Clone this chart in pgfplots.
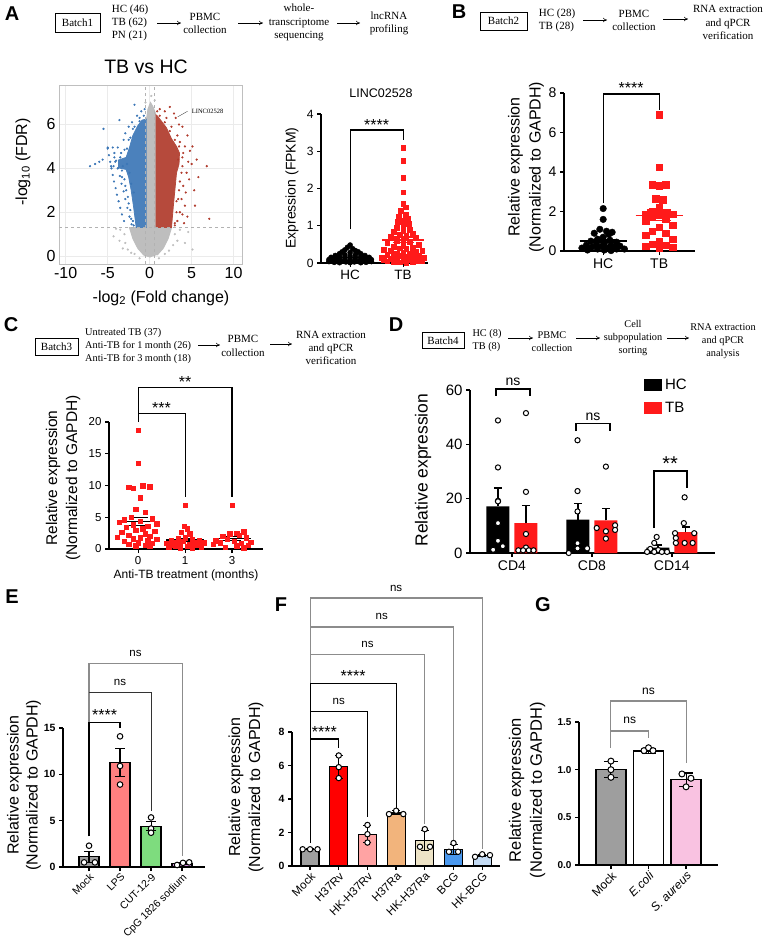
\documentclass[border=0pt]{standalone}
\usepackage{pgfplots}
\pgfplotsset{compat=1.18}
\usepackage{fontspec}
\setmainfont{Liberation Sans}
\newfontfamily\tms{Liberation Serif}
\usetikzlibrary{arrows.meta}

\definecolor{vblue}{HTML}{3B76B6}
\definecolor{vred}{HTML}{B03A2B}
\definecolor{vgray}{HTML}{BEBEBE}
\definecolor{gpred}{HTML}{FF1A1A}
\definecolor{eMock}{HTML}{9E9E9E}
\definecolor{eLPS}{HTML}{FF8080}
\definecolor{eCUT}{HTML}{7EDC7E}
\definecolor{eCpG}{HTML}{D592E0}
\definecolor{fRv}{HTML}{FF0000}
\definecolor{fHKRv}{HTML}{FFA3A3}
\definecolor{fRa}{HTML}{F2B47C}
\definecolor{fHKRa}{HTML}{EDE3C6}
\definecolor{fBCG}{HTML}{4A98EE}
\definecolor{fHKBCG}{HTML}{C4DBF4}
\definecolor{gSa}{HTML}{F9C2E1}

\newcommand\fs[1]{\fontsize{#1}{#1}\selectfont}
\newcommand\fsl[2]{\fontsize{#1}{#2}\selectfont}

\pgfplotsset{
  /pgf/number format/assume math mode=true,
  gp/.style={scale only axis, anchor=south west, axis lines=left,
    axis line style={-, line width=1.3pt}, tick style={black, line width=1.3pt},
    tick align=outside, major tick length=4pt, enlargelimits=false, clip=false},
  gpbar/.style={ybar, bar shift=0pt, draw=black, line width=1.2pt,
    error bars/y dir=both, error bars/y explicit,
    error bars/error bar style={line width=1.1pt, black, solid},
    error bars/error mark options={rotate=90, mark size=#1, line width=1.1pt, black}},
  gpdots/.style={only marks, mark=*, mark size=2.8pt, mark options={fill=white, draw=black, line width=1pt}},
  brk/.style={line width=1.1pt, black, mark=none},
  brkg/.style={line width=1.1pt, black!45, mark=none},
}
\tikzset{
  fc/.style={font=\tms\fsl{11}{13.3}, align=center, inner sep=0pt},
  fcs/.style={font=\tms\fsl{10.3}{13.2}, align=center, inner sep=0pt},
  fcb/.style={draw, line width=0.6pt, font=\tms\fs{11}, inner sep=0pt},
  fca/.style={-{To[length=4pt,width=4.5pt]}, line width=0.55pt},
  plet/.style={font=\bfseries\fs{20}, inner sep=0pt},
  ylab/.style={rotate=90, align=center, inner sep=0pt},
}

\begin{document}
\begin{tikzpicture}
\path[use as bounding box] (0pt,0pt) rectangle (765pt,-943pt);

% ---------------- panel letters ----------------
\node[plet] at (12pt,-14pt) {A};
\node[plet] at (459pt,-12pt) {B};
\node[plet] at (11pt,-325pt) {C};
\node[plet] at (396pt,-325pt) {D};
\node[plet] at (12pt,-597pt) {E};
\node[plet] at (281pt,-605pt) {F};
\node[plet] at (543pt,-605pt) {G};

% ---------------- workflow A ----------------
\node[fcb, minimum width=45pt, minimum height=19pt] at (77.5pt,-23pt) {Batch1};
\node[fc, align=left] at (130pt,-23pt) {HC (46)\\TB (62)\\PN (21)};
\draw[fca] (157pt,-23pt) -- (181pt,-23pt);
\node[fc] at (205pt,-23.5pt) {PBMC\\collection};
\draw[fca] (238pt,-23pt) -- (263pt,-23pt);
\node[fc] at (299pt,-22.5pt) {whole-\\transcriptome\\sequencing};
\draw[fca] (337pt,-23pt) -- (360pt,-23pt);
\node[fc] at (389pt,-23.5pt) {lncRNA\\profiling};

% ---------------- workflow B ----------------
\node[fcb, minimum width=47pt, minimum height=18pt] at (503.5pt,-21pt) {Batch2};
\node[fc, align=left] at (557pt,-20.5pt) {HC (28)\\TB (28)};
\draw[fca] (583pt,-20pt) -- (607pt,-20pt);
\node[fc] at (634pt,-20.5pt) {PBMC\\collection};
\draw[fca] (663pt,-19pt) -- (688pt,-19pt);
\node[fc] at (728pt,-22.5pt) {RNA extraction\\and qPCR\\verification};

% ---------------- workflow C ----------------
\node[fcb, minimum width=43pt, minimum height=17pt] at (56.5pt,-347pt) {Batch3};
\node[fcs, align=left, anchor=west] at (85pt,-346pt) {Untreated TB (37)\\Anti-TB for 1 month (26)\\Anti-TB for 3 month (18)};
\draw[fca] (198pt,-345pt) -- (220pt,-345pt);
\node[fc] at (243pt,-346pt) {PBMC\\collection};
\draw[fca] (270pt,-344pt) -- (292pt,-344pt);
\node[fc] at (331pt,-348pt) {RNA extraction\\and qPCR\\verification};

% ---------------- workflow D ----------------
\node[fcb, minimum width=42pt, minimum height=16pt] at (443pt,-340.5pt) {Batch4};
\node[fcs, align=left] at (487pt,-340.5pt) {HC (8)\\TB (8)};
\draw[fca] (508pt,-338pt) -- (533pt,-338pt);
\node[fcs] at (552pt,-341.5pt) {PBMC\\collection};
\draw[fca] (576pt,-338pt) -- (600pt,-338pt);
\node[fcs] at (633pt,-338pt) {Cell\\subpopulation\\sorting};
\draw[fca] (667pt,-338pt) -- (689pt,-338pt);
\node[fcs] at (723pt,-341pt) {RNA extraction\\and qPCR\\analysis};

% ---------------- A: volcano ----------------
\node[font=\fs{19.5}] at (146pt,-67pt) {TB vs HC};
\node[ylab, font=\fs{16}] at (23pt,-162pt) {-log\textsubscript{10} (FDR)};
\node[font=\fs{16}] at (161pt,-298pt) {-log\textsubscript{2} (Fold change)};
\begin{axis}[scale only axis, anchor=south west, at={(59pt,-264pt)}, width=183pt, height=179pt,
  xmin=-10.8, xmax=11, ymin=-0.36, ymax=7.8, enlargelimits=false, clip=false,
  axis line style={black!25, line width=0.6pt},
  xtick={-10,-5,0,5,10}, ytick={0,2,4,6}, major tick length=0pt,
  grid=major, grid style={black!8, line width=0.5pt},
  ticklabel style={font=\fs{16}}]
% dense cores
\addplot[draw=vgray, line width=1pt, fill=vgray] coordinates {(0.1,-0.05) (-0.7,0.05) (-1.4,0.35) (-2.0,0.8) (-2.4,1.3) (-0.35,1.3) (-0.35,6.3) (-0.2,6.7) (0.1,7.0) (0.4,6.8) (0.7,6.5) (0.7,1.3) (2.6,1.3) (2.2,0.8) (1.6,0.35) (0.9,0.05)};
\addplot[draw=vblue!92, line width=0.8pt, fill=vblue!92] coordinates {(-0.35,1.3) (-1.6,1.3) (-1.9,2.2) (-2.2,3.0) (-2.5,3.6) (-2.8,3.95) (-3.7,4.02) (-3.7,4.38) (-2.8,4.5) (-2.4,4.95) (-2.0,5.5) (-1.4,5.95) (-0.9,6.2) (-0.35,6.25)};
\addplot[draw=vred!92, line width=0.8pt, fill=vred!92] coordinates {(0.7,1.3) (2.6,1.3) (2.8,2.2) (3.0,3.0) (3.2,3.8) (3.5,4.2) (3.55,4.7) (3.2,5.0) (2.6,5.35) (2.0,5.85) (1.4,6.15) (0.9,6.4) (0.7,6.45)};
% scattered genes
\addplot[only marks, mark=*, mark size=0.9pt, vgray] coordinates {(-3.0,1.0) (-3.5,1.2) (-4.0,1.25) (-2.9,0.6) (-2.6,0.3) (3.0,1.0) (3.6,1.2) (4.2,0.6) (2.8,0.5) (-1.8,0.1) (1.8,0.1) (-3.2,0.35) (5.1,0.3) (0.2,7.3) (-0.5,7.0) (0.6,7.1) (-2.2,0.15) (2.3,0.25) (-4.3,0.9) (4.6,1.1) (-1.2,-0.1) (1.1,-0.1) (3.3,0.7) (-3.6,0.7)};
\addplot[only marks, mark=*, mark size=0.9pt, vblue] coordinates {(-7.1,4.1) (-6.5,4.2) (-5.5,5.8) (-5.0,4.95) (-4.4,4.95) (-3.8,4.95) (-3.6,6.2) (-1.8,6.9) (-3.1,5.3) (-2.9,5.6) (-2.5,5.9) (-2.1,6.1) (-1.5,6.4) (-1.0,6.6) (-0.6,6.7) (-3.4,4.7) (-3.0,4.85) (-4.1,4.3) (-4.6,4.1) (-3.3,3.6) (-2.9,3.2) (-2.6,2.7) (-2.3,2.1) (-2.0,1.6) (-1.9,1.4)
 (-5.0,4.9) (-4.85,4.6) (-4.7,4.3) (-4.55,4.0) (-4.4,3.7) (-4.25,3.4) (-4.05,3.1) (-3.9,2.8) (-3.7,2.5) (-3.5,2.2) (-3.3,1.9) (-3.05,1.6)
 (-4.2,4.7) (-4.0,4.35) (-3.8,4.0) (-3.55,3.65) (-3.35,3.3) (-3.1,2.95) (-2.9,2.6) (-2.65,2.2) (-2.4,1.8) (-2.15,1.45)
 (-2.7,4.2) (-3.2,4.1) (-2.4,3.8) (-2.2,3.3) (-1.9,2.9) (-2.5,5.3) (-2.0,5.8) (-1.2,6.3) (-5.6,4.4) (-6.0,4.3)
 (-2.2,1.7) (-2.5,2.4) (-2.8,3.0) (-3.0,3.5) (-3.3,3.9) (-4.3,4.1) (-4.2,4.5) (-3.5,4.5) (-2.7,4.9) (-2.3,5.4) (-1.8,5.9) (-1.2,6.15) (-0.7,6.4)};
\addplot[only marks, mark=*, mark size=0.9pt, vred] coordinates {(2.4,6.8) (3.1,6.3) (5.1,5.0) (6.8,4.1) (7.1,1.7) (5.6,4.4) (4.5,5.5) (3.9,5.9) (4.2,5.0) (4.8,4.8) (5.0,4.2) (4.4,3.8) (4.0,3.2) (3.8,2.6) (4.2,2.3) (3.6,2.0) (4.5,1.8) (3.3,1.6) (5.3,3.0) (4.7,3.5) (4.3,2.9) (3.5,6.0) (2.9,6.5) (1.8,6.6) (1.2,6.7) (5.8,3.6) (4.1,1.5) (3.0,1.4) (3.9,4.5) (3.6,5.2) (3.3,5.5) (2.6,5.9) (3.8,3.8) (3.5,3.0) (3.2,2.5) (3.4,4.4) (4.6,4.3) (2.0,6.3) (5.4,2.3) (3.9,1.9)
 (3.0,1.5) (3.2,2.0) (3.4,2.6) (3.6,3.4) (3.9,4.1) (4.0,4.7) (3.5,5.0) (3.0,5.3) (2.4,5.7) (1.8,6.1) (1.2,6.4) (0.9,6.6)};
% thresholds
\addplot[black!30, dashed, line width=0.5pt] coordinates {(-10.8,1.3) (11,1.3)};
\addplot[black!30, dashed, line width=0.5pt] coordinates {(-0.5,-0.36) (-0.5,7.8)};
\addplot[black!30, dashed, line width=0.5pt] coordinates {(0.6,-0.36) (0.6,7.8)};
% highlighted transcript
\addplot[black!70, line width=0.4pt] coordinates {(3.35,6.35) (4.5,6.6)};
\node[font=\tms\fs{6.5}] at (axis cs:6.9,6.62) {LINC02528};
\end{axis}

% ---------------- A: LINC02528 FPKM ----------------
\node[font=\fs{12.5}] at (381pt,-93pt) {LINC02528};
\node[ylab, font=\fs{14}] at (292pt,-188pt) {Expression (FPKM)};
\begin{axis}[gp, at={(321pt,-263pt)}, width=107pt, height=149pt,
  xmin=-0.55, xmax=1.47, ymin=0, ymax=4, xtick={0,1}, xticklabels={HC,TB},
  ytick={0,1,2,3,4}, yticklabel style={font=\fs{12}}, xticklabel style={font=\fs{13.5}},
  axis line style={-, line width=1.1pt}, tick style={black, line width=1.1pt}]
\addplot[only marks, mark=*, mark size=2.6pt, black] coordinates {
 (0,0.48) (-0.05,0.42) (0.05,0.38) (-0.1,0.35) (0.1,0.33) (-0.15,0.3) (0.15,0.3) (0,0.28)
 (-0.2,0.25) (0.2,0.25) (-0.1,0.22) (0.1,0.22) (-0.28,0.2) (0.28,0.2) (0,0.18) (-0.2,0.17)
 (0.2,0.17) (-0.36,0.15) (0.36,0.15) (-0.1,0.14) (0.1,0.14) (-0.28,0.12) (0.28,0.12) (0,0.1)
 (-0.2,0.1) (0.2,0.1) (-0.4,0.09) (0.4,0.09) (-0.34,0.08) (0.34,0.08) (-0.1,0.07) (0.1,0.07)
 (-0.26,0.06) (0.26,0.06) (0,0.05) (-0.18,0.05) (0.18,0.05) (-0.4,0.04) (0.4,0.04) (-0.08,0.03)
 (0.08,0.03) (-0.3,0.02) (0.3,0.02) (0,0.01) (-0.2,0.01) (0.2,0.01)};
\addplot[only marks, mark=square*, mark size=2.4pt, gpred] coordinates {
 (1,3.1) (1,2.75) (1,2.3) (1,1.9) (1,1.6) (1.05,1.5) (0.95,1.4) (1.05,1.3) (0.92,1.25) (1.08,1.2)
 (1,1.15) (0.9,1.1) (1.1,1.05) (1,1.0) (0.88,0.95) (1.12,0.9) (1,0.87) (0.82,0.84) (1.18,0.8)
 (0.94,0.77) (1.06,0.74) (0.76,0.7) (1.24,0.67) (1,0.64) (0.88,0.6) (1.12,0.57) (0.7,0.54) (1.3,0.5)
 (1,0.47) (0.82,0.44) (1.18,0.42) (0.94,0.4) (1.06,0.38) (0.64,0.36) (1.36,0.34) (0.76,0.32)
 (1.24,0.3) (1,0.28) (0.88,0.26) (1.12,0.24) (0.7,0.22) (1.3,0.2) (0.94,0.19) (1.06,0.18)
 (0.82,0.17) (1.18,0.16) (0.6,0.15) (1.4,0.14) (1,0.13) (0.76,0.12) (1.24,0.11) (0.88,0.1)
 (1.12,0.09) (0.64,0.08) (1.36,0.07) (1,0.06) (0.7,0.05) (1.3,0.05) (0.82,0.04) (1.18,0.03)
 (0.94,0.02) (1.06,0.01)};
\addplot[black, line width=1.2pt] coordinates {(-0.35,0.15) (0.35,0.15)};
\addplot[gpred, line width=1.2pt] coordinates {(0.6,0.62) (1.4,0.62)};
\addplot[gpred, line width=1.2pt] coordinates {(0.8,0.70) (1.2,0.70)};
\addplot[gpred, line width=1.2pt] coordinates {(0.8,0.54) (1.2,0.54)};
\addplot[brk] coordinates {(0,0.9) (0,3.57) (1,3.57) (1,3.3)};
\node[anchor=base, font=\fs{16}] at (axis cs:0.5,3.57) {****};
\end{axis}

% ---------------- B ----------------
\node[ylab, font=\fsl{16}{21}] at (526pt,-167pt) {Relative expression\\(Normalized to GAPDH)};
\begin{axis}[gp, at={(564pt,-251pt)}, width=131pt, height=158pt,
  xmin=-0.7, xmax=1.64, ymin=0, ymax=8, xtick={0,1}, xticklabels={HC,TB},
  ytick={0,2,4,6,8}, yticklabel style={font=\fs{14}}, xticklabel style={font=\fs{14}}]
\addplot[only marks, mark=*, mark size=3.3pt, black] coordinates {
 (0,2.15) (0,1.6) (-0.06,1.1) (0.06,1.0) (0.16,0.95) (-0.16,0.9) (0.1,0.85) (0,0.7)
 (-0.1,0.6) (0.12,0.55) (-0.22,0.5) (0.24,0.45) (0.02,0.4) (-0.12,0.35) (0.14,0.3) (-0.3,0.3)
 (0.3,0.25) (-0.02,0.25) (0.2,0.2) (-0.2,0.2) (0.08,0.15) (-0.38,0.15) (0.38,0.1) (-0.1,0.1)
 (0.24,0.1) (-0.28,0.05) (0.02,0.05) (0.14,0.02)};
\addplot[only marks, mark=square*, mark size=3.2pt, gpred] coordinates {
 (1,6.9) (1,4.25) (0.88,3.35) (1.12,3.35) (1,3.3) (0.94,2.65) (1.06,2.6) (1,2.2) (0.88,2.0)
 (1.12,1.9) (0.76,1.85) (1.24,1.85) (1,1.8) (0.88,1.7) (1.12,1.6) (0.76,1.5) (1.24,1.3) (1,1.2)
 (0.88,1.0) (1.12,0.9) (0.76,0.8) (1.24,0.6) (1,0.5) (0.88,0.35) (1.12,0.3) (0.76,0.25) (1.24,0.2) (1,0.15)};
\addplot[black, line width=1.3pt] coordinates {(-0.42,0.51) (0.42,0.51)};
\addplot[black, line width=1.3pt] coordinates {(-0.22,0.60) (0.22,0.60)};
\addplot[black, line width=1.3pt] coordinates {(-0.22,0.42) (0.22,0.42)};
\addplot[gpred, line width=1.3pt] coordinates {(0.58,1.8) (1.42,1.8)};
\addplot[gpred, line width=1.3pt] coordinates {(0.78,2.07) (1.22,2.07)};
\addplot[gpred, line width=1.3pt] coordinates {(0.78,1.53) (1.22,1.53)};
\addplot[brk] coordinates {(0,2.43) (0,7.95) (1,7.95) (1,7.15)};
\node[anchor=base, font=\fs{16}] at (axis cs:0.5,7.95) {****};
\end{axis}

% ---------------- C ----------------
\node[ylab, font=\fsl{15.5}{20}] at (63pt,-478pt) {Relative expression\\(Normalized to GAPDH)};
\node[font=\fs{12}] at (186pt,-575pt) {Anti-TB treatment (months)};
\begin{axis}[gp, at={(109pt,-549pt)}, width=154pt, height=127pt,
  xmin=-0.62, xmax=2.66, ymin=0, ymax=20, xtick={0,1,2}, xticklabels={0,1,3},
  ytick={0,5,10,15,20}, ticklabel style={font=\fs{11.5}},
  axis line style={-, line width=1.1pt}, tick style={black, line width=1.1pt}]
\addplot[only marks, mark=square*, mark size=2.2pt, gpred] coordinates {
 (0,18.7) (0,13.5) (0.1,10.0) (0.25,9.8) (-0.2,9.7) (-0.1,9.6) (0.05,8.1) (-0.05,6.3) (0.15,5.8)
 (-0.15,5.0) (0.3,4.8) (-0.3,4.6) (0.05,4.4) (-0.4,4.2) (0.4,4.0) (-0.1,3.8) (0.2,3.6) (-0.25,3.4)
 (0.1,3.2) (-0.05,3.0) (0.35,2.8) (-0.35,2.6) (0.15,2.4) (-0.2,2.2) (0.25,2.0) (-0.45,1.9) (0.05,1.8)
 (-0.1,1.6) (0.4,1.5) (0.2,1.3) (-0.3,1.2) (0,1.0) (0.3,0.9) (-0.2,0.8) (0.15,0.6) (-0.05,0.5) (0.25,0.4)
 (1,6.9) (0.98,3.6) (1.05,3.2) (0.92,2.6) (1.1,2.4) (1,1.8) (0.85,1.6) (1.15,1.5) (0.7,1.4) (1.3,1.3)
 (0.95,1.2) (1.2,1.1) (0.8,1.0) (1.4,1.0) (0.6,0.9) (1.1,0.8) (0.9,0.8) (1.3,0.7) (0.7,0.6) (1.2,0.6)
 (0.8,0.5) (1.05,0.4) (1.35,0.3) (0.65,0.3) (1.15,0.2) (0.9,0.1)
 (2,6.9) (2.25,2.7) (2.1,2.5) (1.95,2.4) (2.15,2.2) (1.8,2.0) (2.3,1.8) (1.9,1.5) (1.65,1.3) (2.05,1.2)
 (2.4,1.1) (1.75,1.0) (2.2,0.9) (1.6,0.8) (2.35,0.6) (2.1,0.5) (1.85,0.3) (2.25,0.2)};
\addplot[black, line width=1.2pt] coordinates {(-0.4,4.35) (0.4,4.35)};
\addplot[black, line width=1.2pt] coordinates {(-0.2,5.0) (0.2,5.0)};
\addplot[black, line width=1.2pt] coordinates {(-0.2,3.7) (0.2,3.7)};
\addplot[black, line width=1.2pt] coordinates {(0.6,1.42) (1.4,1.42)};
\addplot[black, line width=1.2pt] coordinates {(0.8,1.69) (1.2,1.69)};
\addplot[black, line width=1.2pt] coordinates {(0.8,1.15) (1.2,1.15)};
\addplot[black, line width=1.2pt] coordinates {(1.6,1.66) (2.4,1.66)};
\addplot[black, line width=1.2pt] coordinates {(1.8,2.0) (2.2,2.0)};
\addplot[black, line width=1.2pt] coordinates {(1.8,1.3) (2.2,1.3)};
\addplot[brk] coordinates {(0,20) (0,25.4) (2,25.4) (2,8.2)};
\addplot[brk] coordinates {(0,21.3) (1,21.3) (1,8.2)};
\node[anchor=base, font=\fs{16}] at (axis cs:1,25.4) {**};
\node[anchor=base, font=\fs{16}] at (axis cs:0.5,21.3) {***};
\end{axis}

% ---------------- D ----------------
\node[ylab, font=\fs{17.5}] at (423pt,-470pt) {Relative expression};
\begin{axis}[gp, at={(470pt,-553pt)}, width=245pt, height=163pt,
  xmin=-0.525, xmax=2.54, ymin=0, ymax=60, xtick={0,1,2}, xticklabels={CD4,CD8,CD14},
  ytick={0,20,40,60}, yticklabel style={font=\fs{15}}, xticklabel style={font=\fs{14}},
  axis line style={-, line width=1.5pt}, tick style={black, line width=1.5pt},
  legend style={draw=none, fill=none, at={(0.71,1.085)}, anchor=north west, font=\fs{15},
    row sep=5pt, inner sep=0pt, nodes={inner sep=3pt}},
  legend cell align=left,
  legend image code/.code={\fill[#1] (0pt,-6pt) rectangle (18pt,6pt);}]
\addplot[ybar, bar shift=0pt, bar width=23pt, fill=black, draw=none,
  error bars/y dir=plus, error bars/y explicit,
  error bars/error bar style={line width=1.3pt, black},
  error bars/error mark options={rotate=90, mark size=4pt, line width=1.3pt, black}]
  coordinates {(-0.175,17.2) +- (0,6.7) (0.825,12.3) +- (0,5.8) (1.825,2.0) +- (0,1.0)};
\addlegendentry{HC}
\addplot[ybar, bar shift=0pt, bar width=23pt, fill=gpred, draw=none,
  error bars/y dir=plus, error bars/y explicit,
  error bars/error bar style={line width=1.3pt, black},
  error bars/error mark options={rotate=90, mark size=4pt, line width=1.3pt, black}]
  coordinates {(0.175,11.0) +- (0,6.4) (1.175,12.0) +- (0,4.3) (2.175,7.7) +- (0,1.9)};
\addlegendentry{TB}
\addplot[gpdots, mark size=2.6pt, forget plot] coordinates {
 (-0.175,48.8) (-0.175,31.5) (-0.175,19.2) (-0.175,19.0) (-0.175,11.0) (-0.175,4.5) (-0.235,1.2) (-0.115,2.5)
 (0.175,51.5) (0.175,22.5) (0.175,7.0) (0.175,2.0) (0.08,1.0) (0.14,1.0) (0.21,1.0) (0.27,1.0)
 (0.82,41.5) (0.82,22.8) (0.82,15.3) (0.82,3.6) (0.82,1.7) (0.94,1.7) (0.71,0.0)
 (1.175,31.8) (1.29,10.2) (1.06,9.2) (1.175,8.0) (1.29,8.5) (1.175,5.3)
 (1.81,5.9) (1.78,3.7) (1.73,1.5) (1.83,1.1) (1.69,0.4) (1.78,0.4) (1.875,0.4) (1.94,0.4)
 (2.16,20.5) (2.15,11.0) (2.04,7.3) (2.28,7.3) (2.05,5.5) (2.16,3.7) (2.26,3.7) (2.05,3.7)};
\addplot[brk, line width=1.3pt, forget plot] coordinates {(-0.2,57.8) (-0.2,60.4) (0.225,60.4) (0.225,57.8)};
\addplot[brk, line width=1.3pt, forget plot] coordinates {(0.8,44.9) (0.8,47.8) (1.225,47.8) (1.225,44.9)};
\addplot[brk, line width=1.3pt, forget plot] coordinates {(1.775,9.2) (1.775,30.2) (2.19,30.2) (2.19,23.9)};
\node[anchor=base, yshift=3pt, font=\fs{14}] at (axis cs:0.0125,60.4) {ns};
\node[anchor=base, yshift=3pt, font=\fs{14}] at (axis cs:1.0125,47.8) {ns};
\node[anchor=base, font=\fs{20}] at (axis cs:1.98,30.2) {**};
\end{axis}

% ---------------- E ----------------
\node[ylab, font=\fsl{16}{19}] at (24pt,-785pt) {Relative expression\\(Normalized to GAPDH)};
\begin{axis}[gp, at={(63pt,-867pt)}, width=142pt, height=139pt,
  xmin=-0.84, xmax=3.74, ymin=0, ymax=15, xtick={0,1,2,3},
  xticklabels={Mock,LPS,CUT-12-9,CpG 1826 sodium}, ytick={0,5,10,15},
  yticklabel style={font=\bfseries\fs{10.5}},
  xticklabel style={rotate=45, anchor=north east, font=\fs{10.5}, inner sep=1pt}]
\addplot[gpbar=5pt, bar width=20pt, fill=eMock] coordinates {(0,1.1) +- (0,0.6)};
\addplot[gpbar=5pt, bar width=20pt, fill=eLPS] coordinates {(1,11.3) +- (0,1.5)};
\addplot[gpbar=5pt, bar width=20pt, fill=eCUT] coordinates {(2,4.4) +- (0,0.5)};
\addplot[gpbar=5pt, bar width=20pt, fill=eCpG] coordinates {(3,0.39) +- (0,0.09)};
\addplot[gpdots] coordinates {(0,2.3) (-0.16,0.5) (0.19,0.5) (1,14.1) (1,10.9) (1,8.9)
 (2,5.35) (2,4.15) (2,3.7) (2.84,0.22) (3.03,0.45) (3.23,0.5)};
\addplot[brkg] coordinates {(0,15.6) (0,22.0) (3,22.0) (3,1.2)};
\addplot[brk, black!80] coordinates {(0,18.8) (2,18.8) (2,6.0)};
\addplot[brk] coordinates {(0,3.3) (0,15.6) (1,15.6) (1,15.0)};
\node[anchor=base, yshift=2pt, font=\fs{16}] at (axis cs:0.5,15.6) {****};
\node[anchor=base, yshift=7pt, font=\fs{11.5}] at (axis cs:1,18.8) {ns};
\node[anchor=base, yshift=7pt, font=\fs{11.5}] at (axis cs:1.5,22.0) {ns};
\end{axis}

% ---------------- F ----------------
\node[ylab, font=\fsl{16}{20}] at (246pt,-787pt) {Relative expression\\(Normalized to GAPDH)};
\begin{axis}[gp, at={(292pt,-866pt)}, width=208pt, height=134pt,
  xmin=-0.63, xmax=6.62, ymin=0, ymax=8, xtick={0,1,2,3,4,5,6},
  xticklabels={Mock,H37Rv,HK-H37Rv,H37Ra,HK-H37Ra,BCG,HK-BCG}, ytick={0,2,4,6,8},
  yticklabel style={font=\bfseries\fs{10.5}},
  xticklabel style={rotate=45, anchor=north east, font=\fs{11.5}, inner sep=1pt}]
\addplot[gpbar=4pt, bar width=18pt, fill=eMock] coordinates {(0,1.0) +- (0,0.03)};
\addplot[gpbar=4pt, bar width=18pt, fill=fRv] coordinates {(1,5.92) +- (0,0.68)};
\addplot[gpbar=4pt, bar width=18pt, fill=fHKRv] coordinates {(2,1.9) +- (0,0.5)};
\addplot[gpbar=4pt, bar width=18pt, fill=fRa] coordinates {(3,3.17) +- (0,0.12)};
\addplot[gpbar=4pt, bar width=18pt, fill=fHKRa] coordinates {(4,1.5) +- (0,0.6)};
\addplot[gpbar=4pt, bar width=18pt, fill=fBCG] coordinates {(5,0.97) +- (0,0.3)};
\addplot[gpbar=4pt, bar width=18pt, fill=fHKBCG] coordinates {(6,0.63) +- (0,0.08)};
\addplot[gpdots, mark size=2.7pt] coordinates {(-0.26,1.0) (0,1.0) (0.26,1.0)
 (1,6.6) (1,5.9) (1,5.25) (2,2.45) (2,1.9) (2,1.4) (2.75,3.1) (3,3.3) (3.25,3.1)
 (4,2.2) (3.83,1.15) (4.18,1.15) (5,1.37) (4.84,0.85) (5.16,0.85) (5.75,0.55) (6,0.7) (6.27,0.65)};
\addplot[brkg] coordinates {(0,10.9) (0,16.0) (6,16.0) (6,1.0)};
\addplot[brkg] coordinates {(0,14.27) (5,14.27) (5,1.55)};
\addplot[brkg] coordinates {(0,12.65) (4,12.65) (4,2.5)};
\addplot[brk] coordinates {(0,1.37) (0,10.9) (3,10.9) (3,3.45)};
\addplot[brk] coordinates {(0,9.25) (2,9.25) (2,2.9)};
\addplot[brk] coordinates {(0,7.58) (1,7.58) (1,7.04)};
\node[anchor=base, yshift=2pt, font=\fs{16}] at (axis cs:0.5,7.58) {****};
\node[anchor=base, yshift=7pt, font=\fs{11.5}] at (axis cs:1,9.25) {ns};
\node[anchor=base, yshift=2pt, font=\fs{16}] at (axis cs:1.5,10.9) {****};
\node[anchor=base, yshift=7pt, font=\fs{11.5}] at (axis cs:2,12.65) {ns};
\node[anchor=base, yshift=7pt, font=\fs{11.5}] at (axis cs:2.5,14.27) {ns};
\node[anchor=base, yshift=7pt, font=\fs{11.5}] at (axis cs:3,16.0) {ns};
\end{axis}

% ---------------- G ----------------
\node[ylab, font=\fsl{16.5}{21}] at (527pt,-790pt) {Relative expression\\(Normalized to GAPDH)};
\begin{axis}[gp, at={(579pt,-865pt)}, width=139pt, height=143pt,
  xmin=-0.85, xmax=2.85, ymin=0, ymax=1.5, xtick={0,1,2},
  xticklabels={Mock,\textit{E.coli},\textit{S. aureus}}, ytick={0,0.5,1,1.5},
  /pgf/number format/fixed, /pgf/number format/fixed zerofill, /pgf/number format/precision=1,
  yticklabel style={font=\bfseries\fs{10}},
  xticklabel style={rotate=45, anchor=north east, font=\fs{12}, inner sep=1pt}]
\addplot[gpbar=7pt, bar width=30pt, fill=eMock] coordinates {(0,1.0) +- (0,0.085)};
\addplot[gpbar=7pt, bar width=30pt, fill=white] coordinates {(1,1.195) +- (0,0.03)};
\addplot[gpbar=7pt, bar width=30pt, fill=gSa] coordinates {(2,0.895) +- (0,0.07)};
\addplot[gpdots, mark size=3pt] coordinates {(0,1.09) (0,1.0) (0,0.92) (0.88,1.2) (1,1.23) (1.12,1.2)
 (1.89,0.955) (2.13,0.91) (2,0.82)};
\addplot[brkg] coordinates {(0,1.23) (0,1.406) (1,1.406) (1,1.33)};
\addplot[brkg] coordinates {(0,1.406) (0,1.72) (2,1.72) (2,1.07)};
\node[anchor=base, yshift=7pt, font=\fs{12}] at (axis cs:0.5,1.406) {ns};
\node[anchor=base, yshift=7pt, font=\fs{12}] at (axis cs:1,1.72) {ns};
\end{axis}

\end{tikzpicture}
\end{document}
